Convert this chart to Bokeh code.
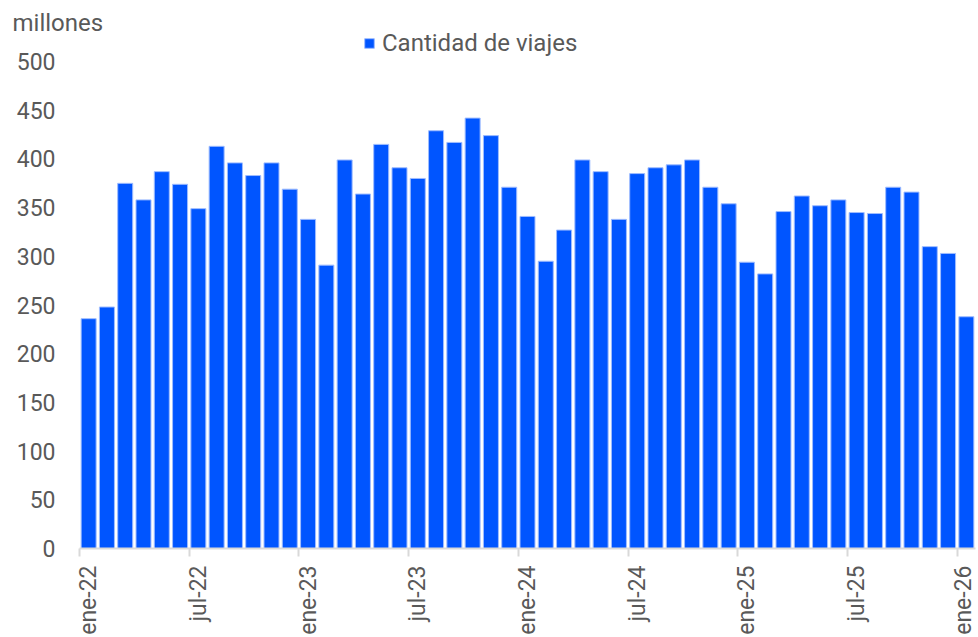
from bokeh.plotting import figure
from bokeh.models import FixedTicker, Legend, LegendItem, ColumnDataSource, Range1d
from bokeh.embed import file_html
from bokeh.resources import INLINE
import math

# ---- data ----
months_es = ["ene", "feb", "mar", "abr", "may", "jun", "jul", "ago", "sep", "oct", "nov", "dic"]
start_year = 22
n_months = 49
viajes = [236, 248, 375, 358, 387, 374, 349, 413, 396, 383, 396, 369,
          338, 291, 399, 364, 415, 391, 380, 429, 417, 442, 424, 371,
          341, 295, 327, 399, 387, 338, 385, 391, 394, 399, 371, 354,
          294, 282, 346, 362, 352, 358, 345, 344, 371, 366, 310, 303,
          238]
tick_labels = ["ene-22", "jul-22", "ene-23", "jul-23", "ene-24", "jul-24", "ene-25", "jul-25", "ene-26"]
y_ticks = [0, 50, 100, 150, 200, 250, 300, 350, 400, 450, 500]

idx = list(range(n_months))
month_names = [f"{months_es[i % 12]}-{start_year + i // 12}" for i in idx]
src = ColumnDataSource(dict(x=idx, y=viajes, mes=month_names))

GRAY = "#595959"
FONT = "Roboto"
BLUE = "#0055ff"

# y range extends a little above 500 so the legend can sit at the top of the frame
p = figure(width=976, height=637, output_backend="svg", toolbar_location=None,
           x_range=Range1d(-0.5, n_months - 0.5), y_range=Range1d(0, 534),
           min_border_left=79, min_border_right=1, min_border_top=28, min_border_bottom=89,
           title="millones")
p.outline_line_color = None
p.grid.visible = False
p.background_fill_color = "white"
p.border_fill_color = "white"

p.title.align = "left"
p.title.offset = -67
p.title.text_font = FONT
p.title.text_font_size = "24px"
p.title.text_font_style = "normal"
p.title.text_color = GRAY
p.title.standoff = -16

r = p.vbar(x="x", top="y", width=0.82, source=src, fill_color=BLUE,
           line_color="#9ebcff", line_width=1)

# x axis: labels at bar centres, tick marks at month boundaries
label_pos = [month_names.index(t) for t in tick_labels]
p.xaxis.ticker = FixedTicker(ticks=label_pos, minor_ticks=[v - 0.5 for v in label_pos])
p.xaxis.major_label_overrides = {v: t for v, t in zip(label_pos, tick_labels)}
p.xaxis.major_label_orientation = math.pi / 2
p.xaxis.major_tick_out = 0
p.xaxis.major_tick_in = 0
p.xaxis.minor_tick_out = 8
p.xaxis.minor_tick_in = 0
p.xaxis.minor_tick_line_color = "#d9d9d9"
p.xaxis.minor_tick_line_width = 2
p.xaxis.axis_line_color = "#d9d9d9"
p.xaxis.axis_line_width = 2
p.xaxis.major_label_standoff = 9
p.xaxis.major_label_text_font = FONT
p.xaxis.major_label_text_font_size = "23px"
p.xaxis.major_label_text_color = GRAY

# y axis
p.yaxis.ticker = FixedTicker(ticks=y_ticks)
p.yaxis.axis_line_color = None
p.yaxis.major_tick_line_color = None
p.yaxis.minor_tick_line_color = None
p.yaxis.major_tick_out = 0
p.yaxis.major_tick_in = 0
p.yaxis.major_label_standoff = 24
p.yaxis.major_label_text_font = FONT
p.yaxis.major_label_text_font_size = "23px"
p.yaxis.major_label_text_color = GRAY

legend = Legend(items=[LegendItem(label="Cantidad de viajes", renderers=[r])],
                location=(284, 491), orientation="horizontal",
                border_line_color=None, background_fill_alpha=0,
                label_text_font=FONT, label_text_font_size="24px", label_text_color=GRAY,
                glyph_width=12, glyph_height=12, label_standoff=7, padding=0, margin=0)
p.add_layout(legend)

open("out.html", "w").write(file_html(p, INLINE))
